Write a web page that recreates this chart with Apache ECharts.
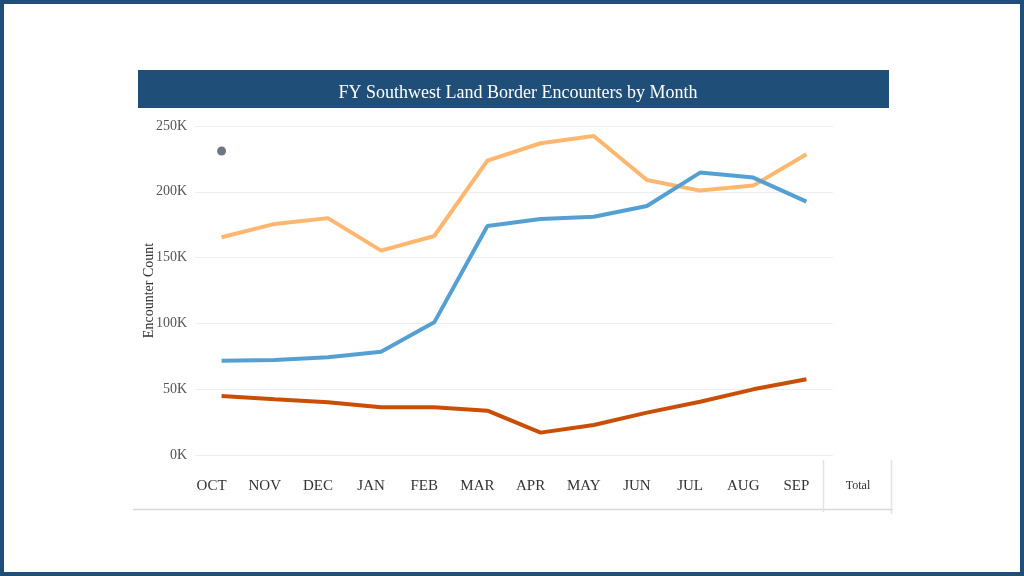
<!DOCTYPE html>
<html>
<head>
<meta charset="utf-8">
<script src="https://cdn.jsdelivr.net/npm/echarts@6/dist/echarts.min.js"></script>
<style>
html,body{margin:0;padding:0;background:#fff;}
#c{width:1024px;height:576px;}
</style>
</head>
<body>
<div id="c"></div>
<script>
const months = ['OCT','NOV','DEC','JAN','FEB','MAR','APR','MAY','JUN','JUL','AUG','SEP'];
const seriesOrange = [165500,175600,180000,155300,166400,223700,236900,242400,209000,200900,204700,228500];
const seriesBlue = [71700,72200,74200,78500,100800,174000,179400,181100,189200,214600,210800,192500];
const seriesDark = [44800,42300,40000,36200,36200,33700,17000,22800,32200,40500,49900,57500];
const seriesDot = [231000,null,null,null,null,null,null,null,null,null,null,null];
const yTicks = [0,50000,100000,150000,200000,250000];

const chart = echarts.init(document.getElementById('c'));
const serif = '"Liberation Serif","DejaVu Serif",serif';
chart.setOption({
  animation:false,
  backgroundColor:'#ffffff',
  title:{
    text:'FY Southwest Land Border Encounters by Month',
    left:513, top:79, textAlign:'center',
    textStyle:{color:'#ffffff',fontFamily:serif,fontSize:18,fontWeight:'normal'}
  },
  graphic:[
    {type:'rect',shape:{x:0,y:0,width:1024,height:576},style:{fill:'none',stroke:'#1f4e79',lineWidth:8},z:-1},
    {type:'rect',shape:{x:138,y:70,width:751,height:38},style:{fill:'#1f4e79'},z:-1},
    {type:'line',shape:{x1:133,y1:509.5,x2:893,y2:509.5},style:{stroke:'#d9d9d9',lineWidth:1.5}},
    {type:'line',shape:{x1:823.5,y1:460,x2:823.5,y2:512},style:{stroke:'#e3e3e3',lineWidth:1.5}},
    {type:'line',shape:{x1:891.5,y1:460,x2:891.5,y2:514},style:{stroke:'#e3e3e3',lineWidth:1.5}},
    {type:'text',x:858,y:486,style:{text:'Total',fill:'#333',font:'12px '+serif,align:'center',verticalAlign:'middle'}}
  ],
  grid:{left:195,right:191,top:126,bottom:121},
  xAxis:{
    type:'category',data:months,boundaryGap:true,
    axisLine:{show:false},axisTick:{show:false},
    axisLabel:{color:'#333',fontFamily:serif,fontSize:15,margin:24,padding:[0,20,0,0]}
  },
  yAxis:{
    type:'value',min:0,max:250000,interval:50000,
    name:'Encounter Count',nameLocation:'middle',nameGap:39,nameRotate:90,nameMoveOverlap:false,
    nameTextStyle:{color:'#333',fontFamily:serif,fontSize:14},
    axisLine:{show:false},axisTick:{show:false},
    axisLabel:{color:'#555',fontFamily:serif,fontSize:14,margin:8,
      formatter:v=>yTicks.includes(v)?(v/1000)+'K':''},
    splitLine:{lineStyle:{color:'#eeeeee',width:1}}
  },
  series:[
    {type:'line',data:seriesOrange,symbol:'none',lineStyle:{color:'#ffb66e',width:4},itemStyle:{color:'#ffb66e'}},
    {type:'line',data:seriesBlue,symbol:'none',lineStyle:{color:'#55a0d3',width:4},itemStyle:{color:'#55a0d3'}},
    {type:'line',data:seriesDark,symbol:'none',lineStyle:{color:'#c94f06',width:4},itemStyle:{color:'#c94f06'}},
    {type:'scatter',data:seriesDot,symbolSize:9,itemStyle:{color:'#4a5366'}}
  ]
});
</script>
</body>
</html>
